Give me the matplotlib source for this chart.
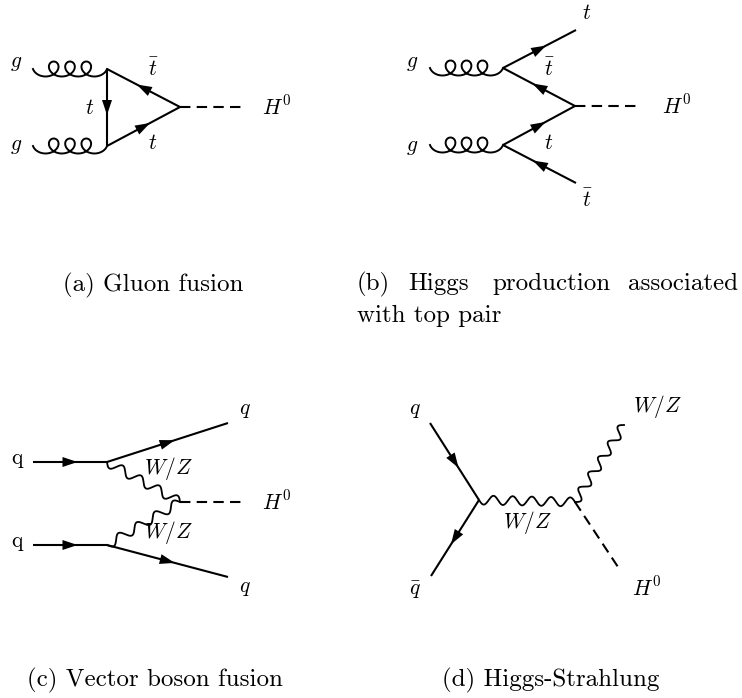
import matplotlib.pyplot as plt
import numpy as np
from matplotlib.patches import Polygon

plt.rcParams['mathtext.fontset'] = 'cm'
plt.rcParams['font.family'] = 'cmr10'
plt.rcParams['axes.unicode_minus'] = False

# vertices in pixel coordinates (x right, y down); fermion lines go in arrow direction
# (a) gluon fusion
a_gluons = [[(33, 69), (107, 69)], [(33, 146), (107, 146)]]
a_fermions = [[(107, 69), (107, 146)], [(180, 107), (107, 69)], [(107, 146), (180, 107)]]
a_scalars = [[(180, 107), (245, 107)]]
a_labels = [(16, 63, r'$g$'), (16, 146, r'$g$'), (153, 69, r'$\bar{t}$'),
            (90, 108, r'$t$'), (153, 143, r'$t$')]

# (b) ttH
b_gluons = [[(430, 68), (503, 68)], [(430, 145), (503, 145)]]
b_fermions = [[(503, 68), (576, 30)], [(575, 106), (503, 68)],
              [(503, 145), (575, 106)], [(576, 183), (503, 145)]]
b_scalars = [[(575, 106), (640, 106)]]
b_labels = [(412, 63, r'$g$'), (412, 147, r'$g$'), (587, 13, r'$t$'), (549, 69, r'$\bar{t}$'),
            (549, 143, r'$t$'), (587, 200, r'$\bar{t}$')]

# (c) vector boson fusion
c_fermions = [[(33, 462), (107, 462)], [(33, 545), (107, 545)],
              [(107, 462), (228, 423)], [(107, 545), (228, 577)]]
c_photons = [[(107, 462), (180, 502)], [(107, 545), (180, 502)]]
c_scalars = [[(180, 502), (245, 502)]]
c_labels = [(18, 460, r'$\mathrm{q}$'), (18, 543, r'$\mathrm{q}$'), (245, 410, r'$q$'),
            (245, 588, r'$q$'), (168, 468, r'$W/Z$'), (168, 533, r'$W/Z$')]

# (d) Higgs-Strahlung
d_fermions = [[(430, 423), (479, 500)], [(479, 500), (431, 576)]]
d_photons = [[(479, 500), (575, 502)], [(575, 502), (624, 425)]]
d_scalars = [[(575, 502), (620, 570)]]
d_labels = [(415, 410, r'$q$'), (415, 590, r'$\bar{q}$'), (657, 407, r'$W/Z$'),
            (527, 523, r'$W/Z$')]

higgs_labels = [(262, 107), (662, 106), (262, 502), (632, 588)]

captions = [(63, 291, '(a) Gluon fusion'), (27, 686, '(c) Vector boson fusion'),
            (442, 686, '(d) Higgs-Strahlung'), (357, 322, 'with top pair')]
b_words = ['(b)', 'Higgs', 'production', 'associated']
b_word_x = [357, 408, 492, 738]


def unit(p, q):
    p = np.array(p, float)
    q = np.array(q, float)
    d = q - p
    L = np.hypot(*d)
    u = d / L
    return p, q, L, u, np.array([-u[1], u[0]])


def fermion(ax, p, q, alen=15, awid=10):
    p, q, L, u, n = unit(p, q)
    ax.plot([p[0], q[0]], [p[1], q[1]], color='k', lw=1.5, solid_capstyle='butt')
    m = (p + q) / 2
    tip = m + u * alen / 2
    base = m - u * alen / 2
    tri = [tip, base + n * awid / 2, base - n * awid / 2]
    ax.add_patch(Polygon(tri, closed=True, color='k', lw=0))


def gluon(ax, p, q, bx=8.5, by=7.5, loops=3):
    # curly line: stretched prolate cycloid, loops above the axis
    p, q, L, u, n = unit(p, q)
    k = 2 * loops + 1
    phi = np.linspace(np.pi / 2, np.pi / 2 + k * np.pi, 800)
    a = (L - 2 * bx) / (k * np.pi)
    s = a * (phi - np.pi / 2) - bx * (np.sin(phi) - 1)
    h = -by * np.cos(phi)
    pts = p + np.outer(s, u) + np.outer(h, n)
    ax.plot(pts[:, 0], pts[:, 1], color='k', lw=1.4)


def photon(ax, p, q, periods, amp=4.5):
    p, q, L, u, n = unit(p, q)
    t = np.linspace(0, 1, 400)
    pts = p + np.outer(t * L, u) + np.outer(amp * np.sin(2 * np.pi * periods * t), n)
    ax.plot(pts[:, 0], pts[:, 1], color='k', lw=1.3)


def scalar(ax, p, q):
    ax.plot([p[0], q[0]], [p[1], q[1]], color='k', lw=1.5, ls=(0, (5, 3)))


fig = plt.figure(figsize=(7.42, 6.98), dpi=100)
ax = fig.add_axes([0, 0, 1, 1])
ax.set_xlim(0, 742)
ax.set_ylim(698, 0)
ax.axis('off')

for g in a_gluons + b_gluons:
    gluon(ax, *g)
for f in a_fermions + b_fermions + c_fermions + d_fermions:
    fermion(ax, *f)
for s in a_scalars + b_scalars + c_scalars + d_scalars:
    scalar(ax, *s)
photon(ax, *c_photons[0], periods=4)
photon(ax, *c_photons[1], periods=4)
photon(ax, *d_photons[0], periods=5)
photon(ax, *d_photons[1], periods=5)

for x, y, s in a_labels + b_labels + c_labels + d_labels:
    ax.text(x, y, s, fontsize=15.5, ha='center', va='center')
for x, y in higgs_labels:
    ax.text(x, y, r'$H^0$', fontsize=15.5, ha='left', va='center')

for x, y, s in captions:
    ax.text(x, y, s, fontsize=18, va='baseline')
for i, (x, w) in enumerate(zip(b_word_x, b_words)):
    ax.text(x, 290, w, fontsize=18, va='baseline',
            ha='right' if i == len(b_words) - 1 else 'left')

fig.savefig('out.png', dpi=100)
